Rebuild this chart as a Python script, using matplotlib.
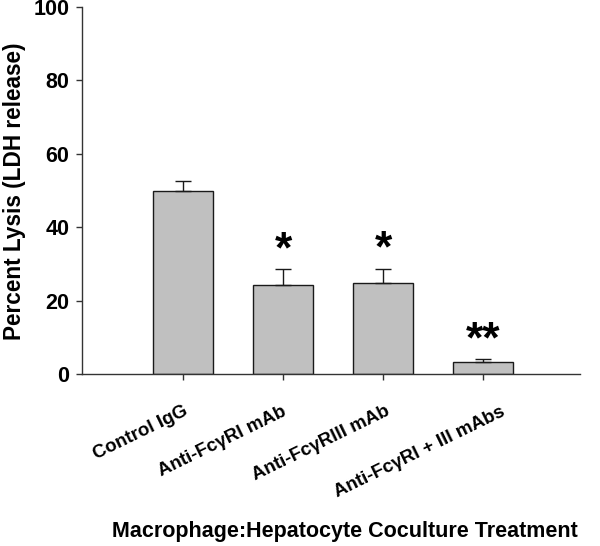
import matplotlib
matplotlib.use("Agg")
import matplotlib.pyplot as plt
from matplotlib.transforms import ScaledTranslation

plt.rcParams['font.family'] = ['Liberation Sans', 'DejaVu Sans']
plt.rcParams['font.weight'] = 'bold'

categories = ["Control IgG", "Anti-Fc\u03b3RI mAb", "Anti-Fc\u03b3RIII mAb", "Anti-Fc\u03b3RI + III mAbs"]
values = [49.9, 24.3, 24.8, 3.3]
errors = [2.6, 4.3, 3.9, 0.8]
stars = ["", "*", "*", "**"]

fig = plt.figure(figsize=(6.0, 5.46), dpi=100)
ax = fig.add_axes([82/600, 1-374/546, 498/600, 367/546])

x = list(range(len(categories)))
ax.bar(x, values, width=0.6, color='#C0C0C0', edgecolor='#1a1a1a', linewidth=1.0, zorder=2)
ax.errorbar(x, values, yerr=[[0]*len(errors), errors], fmt='none', ecolor='#1a1a1a',
            elinewidth=1.0, capsize=5.5, capthick=1.0, zorder=3)

for xi, v, e, s in zip(x, values, errors, stars):
    if s:
        ax.text(xi, v + e + 10.6, s, ha='center', va='top', fontsize=32, fontweight='bold')

ax.set_xlim(-1.01, 3.97)
ax.set_ylim(0, 100)
ax.set_yticks([0, 20, 40, 60, 80, 100])
ax.set_xticks(x)
ax.set_xticklabels([])
label_dx = [0, -1, 2, 17]
for xi, lab, dx in zip(x, categories, label_dx):
    tr = ax.get_xaxis_transform() + ScaledTranslation(dx/100, -29/100, fig.dpi_scale_trans)
    ax.text(xi, 0, lab, transform=tr, rotation=26, ha='right', va='top', rotation_mode='anchor',
            fontsize=13.5, fontweight='bold')
for lab in ax.get_yticklabels():
    lab.set_fontsize(15.5)
    lab.set_fontweight('bold')

for sp in ['top', 'right']:
    ax.spines[sp].set_visible(False)
for sp in ['left', 'bottom']:
    ax.spines[sp].set_linewidth(1.0)
    ax.spines[sp].set_color('#333333')
ax.tick_params(axis='both', direction='out', length=4, width=1.0, color='#333333')
ax.tick_params(axis='y', pad=5)

fig.text(15/600, 1-191/546, "Percent Lysis (LDH release)", rotation=90, ha='center', va='center',
         fontsize=16.3, fontweight='bold')
fig.text(345/600, 1-532/546, "Macrophage:Hepatocyte Coculture Treatment", ha='center', va='center',
         fontsize=15.5, fontweight='bold')

fig.savefig("out.png", dpi=100)
